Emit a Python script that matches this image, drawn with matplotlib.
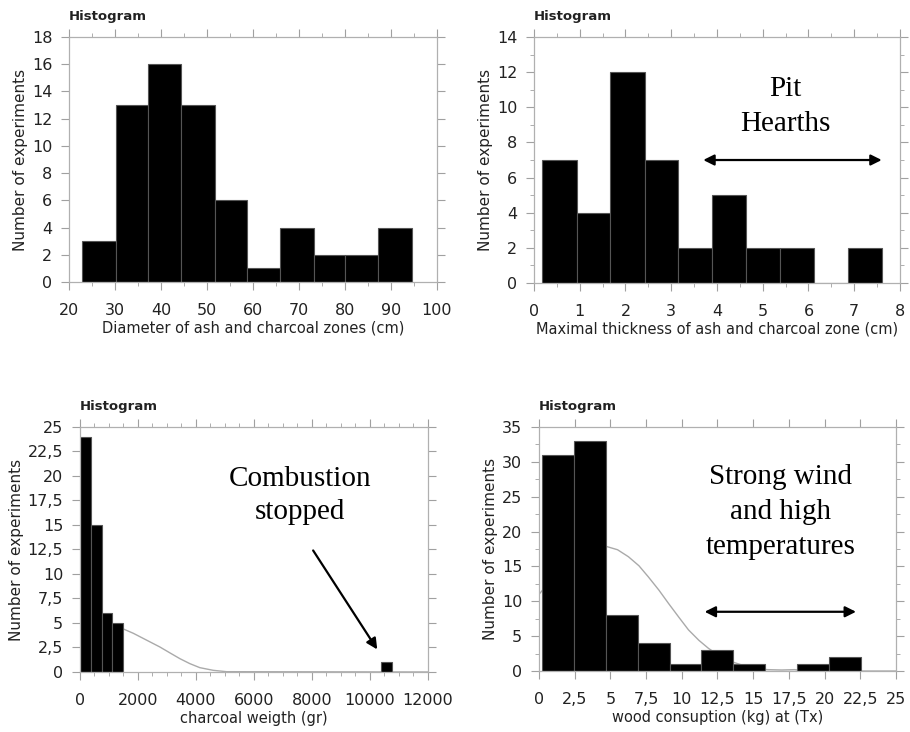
import matplotlib
matplotlib.use("Agg")
import matplotlib.pyplot as plt
from matplotlib.ticker import MultipleLocator, FuncFormatter

# données
diam_edges = [22.9, 30.3, 37.2, 44.3, 51.7, 58.7, 65.8, 73.2, 80.1, 87.2, 94.6]
diam_counts = [3, 13, 16, 13, 6, 1, 4, 2, 2, 4]

thick_edges = [0.18, 0.93, 1.67, 2.42, 3.15, 3.90, 4.63, 5.38, 6.12, 6.86, 7.61]
thick_counts = [7, 4, 12, 7, 2, 5, 2, 2, 0, 2]

charcoal_left = [0, 367, 746, 1091, 10390]
charcoal_right = [367, 746, 1091, 1470, 10769]
charcoal_counts = [24, 15, 6, 5, 1]
charcoal_fit_x = [1470, 1837, 2296, 2755, 3100, 3444, 3789, 4133, 4592, 5052, 12000]
charcoal_fit_y = [4.42, 3.95, 3.25, 2.55, 1.95, 1.36, 0.85, 0.44, 0.17, 0.03, 0.0]

wood_edges = [0.19, 2.43, 4.67, 6.90, 9.14, 11.38, 13.62, 15.86, 18.09, 20.33, 22.57]
wood_counts = [31, 33, 8, 4, 1, 3, 1, 0, 1, 2]
wood_fit_x = [0, 1, 2, 3, 4, 4.67, 5.5, 6.26, 7, 7.66, 8.4, 9.07, 9.8, 10.47,
              11.2, 11.87, 12.7, 13.5, 14.3, 15.14, 16, 17, 17.9, 18.5, 19.8, 25]
wood_fit_y = [11, 13.4, 15.5, 17.0, 17.8, 17.9, 17.4, 16.4, 15.1, 13.5, 11.6, 9.7, 7.7, 5.9,
              4.4, 3.25, 2.1, 1.34, 0.8, 0.38, 0.2, 0.15, 0.2, 0.05, 0.0, 0.0]

plt.rcParams["font.family"] = "DejaVu Sans"
serif = "Liberation Serif"

fig = plt.figure(figsize=(9.1, 7.32), dpi=100)


def comma(v, pos):
    return f"{v:g}".replace(".", ",")


def setup(ax, xlabel):
    for s in ax.spines.values():
        s.set_color("#b0b0b0")
        s.set_linewidth(0.9)
    ax.tick_params(which="both", direction="out", top=True, right=True,
                   color="#a0a0a0", labelsize=11.5, labelcolor="#222222")
    ax.tick_params(which="major", length=6)
    ax.tick_params(which="minor", length=3)
    ax.tick_params(axis="x", which="both", pad=9)
    ax.tick_params(axis="y", which="both", pad=6)
    ax.set_xlabel(xlabel, fontsize=10.5, color="#222222", labelpad=2)
    ax.set_ylabel("Number of experiments", fontsize=11, color="#222222", labelpad=3)
    ax.annotate("Histogram", xy=(0, 1), xycoords="axes fraction", xytext=(0, 15),
                textcoords="offset points", ha="left", va="center",
                fontsize=9.5, fontweight="bold", color="#222222")


def bars(ax, edges, counts):
    left = edges[:-1]
    widths = [edges[i + 1] - edges[i] for i in range(len(counts))]
    ax.bar(left, counts, width=widths, align="edge", color="black",
           edgecolor="#555555", linewidth=0.8, zorder=2)


# --- Diamètre
ax1 = fig.add_axes([0.0758, 0.6148, 0.4044, 0.3347])
bars(ax1, diam_edges, diam_counts)
ax1.set_xlim(20, 100)
ax1.set_ylim(0, 18)
ax1.xaxis.set_major_locator(MultipleLocator(10))
ax1.xaxis.set_minor_locator(MultipleLocator(5))
ax1.yaxis.set_major_locator(MultipleLocator(2))
setup(ax1, "Diameter of ash and charcoal zones (cm)")

# --- Epaisseur
ax2 = fig.add_axes([0.5868, 0.6134, 0.4022, 0.336])
bars(ax2, thick_edges, thick_counts)
ax2.set_xlim(0, 8)
ax2.set_ylim(0, 14)
ax2.xaxis.set_major_locator(MultipleLocator(1))
ax2.xaxis.set_minor_locator(MultipleLocator(0.5))
ax2.yaxis.set_major_locator(MultipleLocator(2))
ax2.yaxis.set_minor_locator(MultipleLocator(1))
setup(ax2, "Maximal thickness of ash and charcoal zone (cm)")
ax2.text(5.5, 11.06, "Pit", family=serif, fontsize=21, ha="center", va="center")
ax2.text(5.5, 9.07, "Hearths", family=serif, fontsize=21, ha="center", va="center")
ax2.annotate("", xy=(7.6, 7), xytext=(3.7, 7),
             arrowprops=dict(arrowstyle="<|-|>", color="black", lw=1.6, mutation_scale=16,
                             shrinkA=0, shrinkB=0))

# --- Charbon
ax3 = fig.add_axes([0.0879, 0.082, 0.3824, 0.3347])
ax3.plot(charcoal_fit_x, charcoal_fit_y, color="#aaaaaa", lw=1.0, zorder=1)
ax3.bar(charcoal_left, charcoal_counts,
        width=[r - l for l, r in zip(charcoal_left, charcoal_right)],
        align="edge", color="black", edgecolor="#555555", linewidth=0.8, zorder=2)
ax3.set_xlim(0, 12000)
ax3.set_ylim(0, 25)
ax3.xaxis.set_major_locator(MultipleLocator(2000))
ax3.xaxis.set_minor_locator(MultipleLocator(500))
ax3.yaxis.set_major_locator(MultipleLocator(2.5))
ax3.yaxis.set_major_formatter(FuncFormatter(comma))
setup(ax3, "charcoal weigth (gr)")
ax3.text(7580, 19.7, "Combustion", family=serif, fontsize=21, ha="center", va="center")
ax3.text(7580, 16.3, "stopped", family=serif, fontsize=21, ha="center", va="center")
ax3.annotate("", xy=(10250, 2.3), xytext=(8040, 12.4),
             arrowprops=dict(arrowstyle="-|>", color="black", lw=1.6, mutation_scale=16,
                             shrinkA=0, shrinkB=0))

# --- Bois
ax4 = fig.add_axes([0.5923, 0.0833, 0.3923, 0.3333])
ax4.plot(wood_fit_x, wood_fit_y, color="#aaaaaa", lw=1.0, zorder=1)
bars(ax4, wood_edges, wood_counts)
ax4.set_xlim(0, 25)
ax4.set_ylim(0, 35)
ax4.xaxis.set_major_locator(MultipleLocator(2.5))
ax4.xaxis.set_major_formatter(FuncFormatter(comma))
ax4.yaxis.set_major_locator(MultipleLocator(5))
ax4.yaxis.set_minor_locator(MultipleLocator(2.5))
setup(ax4, "wood consuption (kg) at (Tx)")
ax4.text(16.9, 27.8, "Strong wind", family=serif, fontsize=21, ha="center", va="center")
ax4.text(16.9, 22.8, "and high", family=serif, fontsize=21, ha="center", va="center")
ax4.text(16.9, 17.8, "temperatures", family=serif, fontsize=21, ha="center", va="center")
ax4.annotate("", xy=(22.2, 8.5), xytext=(11.6, 8.5),
             arrowprops=dict(arrowstyle="<|-|>", color="black", lw=1.6, mutation_scale=16,
                             shrinkA=0, shrinkB=0))

fig.savefig("out.png", dpi=100)
